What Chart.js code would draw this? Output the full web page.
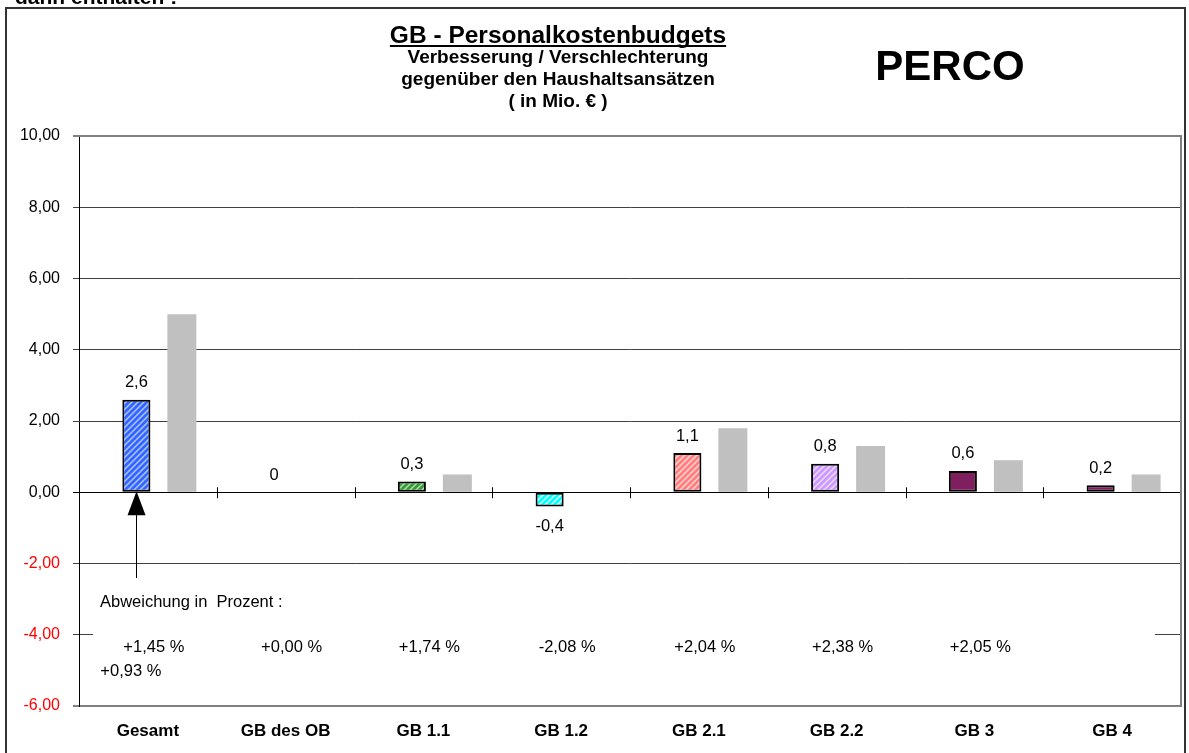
<!DOCTYPE html>
<html>
<head>
<meta charset="utf-8">
<script src="https://cdn.jsdelivr.net/npm/chart.js@4"></script>
<style>
  html, body { margin: 0; padding: 0; background: #fff; }
  #wrap { width: 1189px; height: 753px; }
</style>
</head>
<body>
<div id="wrap"><canvas id="c" width="1189" height="753"></canvas></div>
<script>
// --- data ---
const categories = ['Gesamt', 'GB des OB', 'GB 1.1', 'GB 1.2', 'GB 2.1', 'GB 2.2', 'GB 3', 'GB 4'];
const abweichung = [2.6, 0, 0.3, -0.4, 1.1, 0.8, 0.6, 0.2];      // Verbesserung / Verschlechterung
const vergleich  = [5.0, null, 0.5, null, 1.8, 1.3, 0.9, 0.5];    // graue Vergleichsbalken
const prozent    = ['+1,45 %', '+0,00 %', '+1,74 %', '-2,08 %', '+2,04 %', '+2,38 %', '+2,05 %', ''];
const prozentGesamt2 = '+0,93 %';
const yMin = -6, yMax = 10, yStep = 2;

const FONT = '"Liberation Sans", Arial, Helvetica, sans-serif';
const canvas = document.getElementById('c');
const ctx = canvas.getContext('2d');

// diagonal hatch fill like the Excel pattern bars
function hatch(base, stripe) {
    const s = 6;
    const tile = document.createElement('canvas');
    tile.width = tile.height = s;
    const g = tile.getContext('2d');
    g.fillStyle = base;
    g.fillRect(0, 0, s, s);
    g.strokeStyle = stripe;
    g.lineWidth = 1.5;
    g.beginPath();
    g.moveTo(0, s); g.lineTo(s, 0);
    g.moveTo(-s / 2, s / 2); g.lineTo(s / 2, -s / 2);
    g.moveTo(s / 2, s * 1.5); g.lineTo(s * 1.5, s / 2);
    g.stroke();
    return ctx.createPattern(tile, 'repeat');
}

const fills = [
    hatch('#3366FF', 'rgba(205,220,255,0.8)'),
    '#ffffff',
    hatch('#339933', 'rgba(215,245,215,0.75)'),
    hatch('#00FFFF', 'rgba(255,255,255,0.85)'),
    hatch('#FF7F7F', 'rgba(255,232,232,0.8)'),
    hatch('#CC99FF', 'rgba(246,236,255,0.8)'),
    '#7F1F5F',
    '#7F1F5F'
];

const fmt = v => String(v).replace('.', ',');

const decor = {
    id: 'decor',
    beforeDraw(chart) {
        const c = chart.ctx;
        c.save();
        c.fillStyle = '#fff';
        c.fillRect(0, 0, chart.width, chart.height);
        c.restore();
    },
    afterDraw(chart) {
        const c = chart.ctx;
        const a = chart.chartArea;
        const x = chart.scales.x, y = chart.scales.y;
        c.save();

        // outer frame + cut-off line above it
        c.strokeStyle = '#333';
        c.lineWidth = 2;
        c.strokeRect(6, 8, 1179, 780);
        c.fillStyle = '#000';
        c.font = 'bold 21px ' + FONT;
        c.textAlign = 'left';
        c.textBaseline = 'alphabetic';
        c.fillText('dann enthalten !', 15, 4);

        // plot area border (top, right)
        c.strokeStyle = '#808080';
        c.lineWidth = 2;
        c.beginPath();
        c.moveTo(a.left, a.top);
        c.lineTo(a.right, a.top);
        c.lineTo(a.right, a.bottom);
        c.stroke();

        // tick marks on the zero line between categories
        const zy = y.getPixelForValue(0);
        const half = (x.getPixelForValue(1) - x.getPixelForValue(0)) / 2;
        c.strokeStyle = '#000';
        c.lineWidth = 1;
        c.beginPath();
        for (let i = 0; i < categories.length - 1; i++) {
            const bx = Math.round(x.getPixelForValue(i) + half) + 0.5;
            c.moveTo(bx, zy - 5);
            c.lineTo(bx, zy + 6);
        }
        c.stroke();

        // value labels
        const meta = chart.getDatasetMeta(0);
        c.font = '16.5px ' + FONT;
        c.textAlign = 'center';
        c.textBaseline = 'middle';
        c.fillStyle = '#000';
        meta.data.forEach((bar, i) => {
            const v = abweichung[i];
            c.fillText(fmt(v), bar.x, v < 0 ? bar.y + 20 : bar.y - 17);
        });

        // percentage box (covers the -4 gridline)
        c.fillStyle = '#fff';
        c.fillRect(93, 588, 1062, 100);
        c.fillStyle = '#000';
        c.textAlign = 'left';
        c.fillText('Abweichung in  Prozent :', 100, 602);
        c.textAlign = 'center';
        prozent.forEach((p, i) => {
            if (p) c.fillText(p, x.getPixelForValue(i) + 6, 647);
        });
        c.fillText(prozentGesamt2, x.getPixelForValue(0) - 17, 671);

        // arrow pointing at Gesamt bar
        const ax = Math.round(meta.data[0].x) + 0.5;
        c.strokeStyle = '#000';
        c.lineWidth = 1;
        c.beginPath();
        c.moveTo(ax, zy + 20);
        c.lineTo(ax, 578);
        c.stroke();
        c.beginPath();
        c.moveTo(ax, zy - 1);
        c.lineTo(ax - 9, zy + 23);
        c.lineTo(ax + 9, zy + 23);
        c.closePath();
        c.fill();

        // titles
        c.fillStyle = '#000';
        c.textAlign = 'center';
        c.textBaseline = 'middle';
        c.font = 'bold 24.5px ' + FONT;
        const title = 'GB - Personalkostenbudgets';
        c.fillText(title, 558, 36);
        const tw = c.measureText(title).width;
        c.fillRect(558 - tw / 2, 45, tw, 2);
        c.font = 'bold 19px ' + FONT;
        c.fillText('Verbesserung / Verschlechterung', 558, 58);
        c.fillText('gegenüber den Haushaltsansätzen', 558, 80);
        c.fillText('( in Mio. € )', 558, 102);
        c.font = 'bold 42px ' + FONT;
        c.fillText('PERCO', 950, 68);

        c.restore();
    }
};

new Chart(ctx, {
    type: 'bar',
    data: {
        labels: categories,
        datasets: [
            {
                label: 'Abweichung',
                data: abweichung,
                backgroundColor: fills,
                borderColor: '#000',
                borderWidth: 2,
                borderSkipped: false,
                categoryPercentage: 0.334,
                barPercentage: 1.22
            },
            {
                label: 'Vergleich',
                data: vergleich,
                backgroundColor: '#C0C0C0',
                borderWidth: 0,
                categoryPercentage: 0.987,
                barPercentage: 0.4265
            }
        ]
    },
    options: {
        responsive: false,
        animation: false,
        layout: { padding: { top: 136, right: 8, left: 0, bottom: 0 } },
        plugins: { legend: { display: false }, tooltip: { enabled: false }, title: { display: false } },
        scales: {
            x: {
                grid: { display: false, drawTicks: false },
                border: { color: '#808080', width: 2 },
                ticks: {
                    color: '#000',
                    font: { family: FONT, size: 17, weight: 'bold' },
                    padding: 15,
                    maxRotation: 0,
                    autoSkip: false
                },
                afterFit: s => { s.height = 47; }
            },
            y: {
                min: yMin,
                max: yMax,
                ticks: {
                    stepSize: yStep,
                    color: c => (c.tick && c.tick.value < 0) ? '#FF0000' : '#000',
                    callback: v => v.toFixed(2).replace('.', ','),
                    font: { family: FONT, size: 16 },
                    padding: 13
                },
                grid: {
                    color: c => {
                        const v = c.tick ? c.tick.value : null;
                        if (v === yMax || v === yMin) return '#808080';
                        if (v === 0) return '#000';
                        return '#404040';
                    },
                    lineWidth: c => (c.tick && (c.tick.value === yMax || c.tick.value === yMin)) ? 2 : 1,
                    tickLength: 6
                },
                border: { color: '#000', width: 1 },
                afterFit: s => { s.width = 79; }
            }
        }
    },
    plugins: [decor]
});
</script>
</body>
</html>
